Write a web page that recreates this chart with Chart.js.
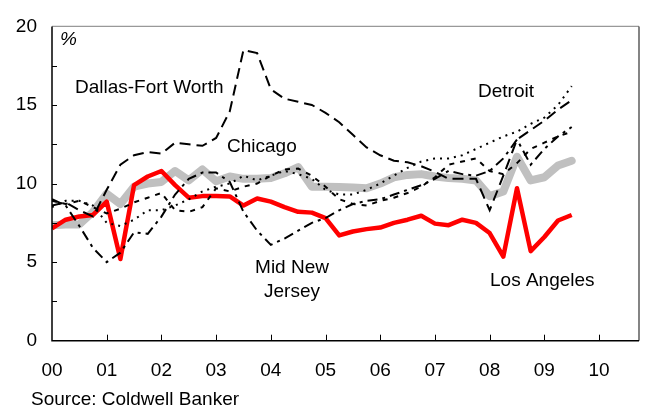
<!DOCTYPE html>
<html><head><meta charset="utf-8">
<script src="https://cdn.jsdelivr.net/npm/chart.js@4.4.1/dist/chart.umd.min.js"></script>
<style>html,body{margin:0;padding:0;background:#fff}#wrap{width:649px;height:412px;position:relative}</style>
</head><body><div id="wrap"><canvas id="c" width="649" height="412"></canvas></div>
<script>
// ---- data ----
const quarters = ['2000Q1','2000Q2','2000Q3','2000Q4','2001Q1','2001Q2','2001Q3','2001Q4','2002Q1','2002Q2','2002Q3','2002Q4','2003Q1','2003Q2','2003Q3','2003Q4','2004Q1','2004Q2','2004Q3','2004Q4','2005Q1','2005Q2','2005Q3','2005Q4','2006Q1','2006Q2','2006Q3','2006Q4','2007Q1','2007Q2','2007Q3','2007Q4','2008Q1','2008Q2','2008Q3','2008Q4','2009Q1','2009Q2','2009Q3'];
const average = [7.34,7.4,7.4,8.2,9.35,8.7,9.8,10.0,10.1,10.8,10.2,10.9,10.15,10.45,10.3,10.3,10.35,10.65,11.05,9.8,9.8,9.78,9.75,9.7,10.0,10.4,10.55,10.6,10.45,10.35,10.3,10.2,9.2,9.5,11.7,10.2,10.4,11.15,11.45];
const losAngeles = [7.15,7.7,7.9,8.0,8.85,5.2,9.9,10.45,10.8,9.9,9.1,9.2,9.2,9.18,8.6,9.05,8.85,8.5,8.2,8.15,7.8,6.7,6.95,7.1,7.2,7.5,7.7,7.95,7.45,7.35,7.7,7.5,6.85,5.35,9.7,5.7,6.6,7.65,8.0];
const dallas = [8.6,8.8,8.3,7.9,9.6,11.2,11.8,12.0,11.9,12.6,12.5,12.4,12.9,14.6,18.5,18.3,16.0,15.4,15.2,15.0,14.5,13.9,13.1,12.3,11.8,11.45,11.35,11.1,10.75,10.3,10.3,10.3,8.3,10.5,12.8,13.4,14.0,14.7,15.3];
const midNewJersey = [9.0,8.6,7.3,5.9,5.0,5.6,6.9,6.8,7.9,9.3,10.3,10.7,10.7,10.1,8.2,7.0,6.1,6.5,7.0,7.5,7.8,8.3,8.7,8.9,9.0,9.3,9.6,9.9,10.3,10.8,10.6,10.5,10.8,11.6,12.8,11.2,12.2,13.0,13.6];
const chicago = [8.9,8.7,8.9,8.5,8.1,8.4,8.8,9.1,9.4,8.3,8.2,8.5,9.7,9.5,9.8,10.0,10.5,10.9,10.95,10.5,9.8,9.0,8.7,8.6,8.9,9.1,9.4,9.8,10.4,11.2,11.4,11.6,10.8,10.6,11.3,12.2,12.6,13.0,13.3];
const detroit = [8.5,8.9,8.9,8.6,7.5,7.3,7.7,8.3,8.3,8.6,9.0,9.5,9.8,10.0,10.5,10.2,10.5,10.8,10.6,10.3,9.6,9.3,9.3,9.6,10.0,10.5,11.0,11.4,11.6,11.6,11.8,12.2,12.6,13.0,13.3,13.8,14.2,15.0,16.2];
const xTickLabels = ['00','01','02','03','04','05','06','07','08','09','10'];
const yTickLabels = ['0','5','10','15','20'];
const yTickValues = [0,5,10,15,20];
const yTickMarks = [2.5,5,7.5,10,12.5,15,17.5];
const xMax = 10.73;
const seriesLabels = {dallas:'Dallas-Fort Worth', chicago:'Chicago', detroit:'Detroit', mnj:['Mid New','Jersey'], la:'Los Angeles'};
const sourceText = 'Source: Coldwell Banker';

// ---- helpers ----
function qx(q){ const y = parseInt(q.slice(0,4),10) - 2000; const n = parseInt(q.slice(5),10); return y + (n-1)/4; }
function pts(arr){ return arr.map((v,i)=>({x:qx(quarters[i]), y:v})); }
const FONT = "'Liberation Sans', Arial, sans-serif";

const overlay = {
  id:'overlay',
  afterDraw(chart){
    const {ctx, chartArea:a, scales:{x,y}} = chart;
    ctx.save();
    // frame
    ctx.strokeStyle = '#999'; ctx.lineWidth = 1.2;
    ctx.beginPath(); ctx.moveTo(a.left, a.top); ctx.lineTo(a.right, a.top); ctx.stroke();
    ctx.strokeStyle = '#333';
    ctx.beginPath(); ctx.moveTo(a.right, a.top); ctx.lineTo(a.right, a.bottom); ctx.stroke();
    ctx.strokeStyle = '#000'; ctx.lineWidth = 1.5;
    ctx.beginPath(); ctx.moveTo(a.left, a.top); ctx.lineTo(a.left, a.bottom); ctx.lineTo(a.right, a.bottom); ctx.stroke();
    // tick marks (inward)
    ctx.lineWidth = 1;
    ctx.beginPath();
    yTickMarks.forEach(v=>{ const py = Math.round(y.getPixelForValue(v))+0.5; ctx.moveTo(a.left, py); ctx.lineTo(a.left+5, py); });
    xTickLabels.forEach((l,i)=>{ if(i===0) return; const px = Math.round(x.getPixelForValue(i))+0.5; ctx.moveTo(px, a.bottom); ctx.lineTo(px, a.bottom-6); });
    ctx.stroke();
    // annotations
    ctx.fillStyle = '#000';
    ctx.textBaseline = 'alphabetic';
    ctx.font = "italic 19px " + FONT; ctx.textAlign = 'left';
    ctx.fillText('%', 60, 45);
    ctx.font = "19px " + FONT;
    ctx.fillText(seriesLabels.dallas, 75, 93);
    ctx.fillText(seriesLabels.chicago, 227, 152);
    ctx.fillText(seriesLabels.detroit, 478, 97);
    ctx.fillText(seriesLabels.la, 490, 286);
    ctx.textAlign = 'center';
    ctx.fillText(seriesLabels.mnj[0], 292, 273);
    ctx.fillText(seriesLabels.mnj[1], 292, 297);
    ctx.textAlign = 'left';
    ctx.fillText(sourceText, 31, 405);
    ctx.restore();
  }
};

new Chart(document.getElementById('c'), {
  type:'line',
  data:{ datasets:[
    {label:'Detroit', data:pts(detroit), borderColor:'#000', borderWidth:2, borderDash:[2,5], order:1},
    {label:'Chicago', data:pts(chicago), borderColor:'#000', borderWidth:2, borderDash:[5,6], order:2},
    {label:'Mid New Jersey', data:pts(midNewJersey), borderColor:'#000', borderWidth:2, borderDash:[10,5,3,5], order:3},
    {label:'Dallas-Fort Worth', data:pts(dallas), borderColor:'#000', borderWidth:2, borderDash:[11,6], order:4},
    {label:'Los Angeles', data:pts(losAngeles), borderColor:'#ff0000', borderWidth:4.5, order:5, borderJoinStyle:'round'},
    {label:'Average', data:pts(average), borderColor:'#c0c0c0', borderWidth:8, order:6, borderJoinStyle:'round', borderCapStyle:'round'}
  ]},
  options:{
    responsive:false, animation:false,
    layout:{padding:{top:20,right:10,left:0,bottom:0}},
    elements:{point:{radius:0}, line:{tension:0}},
    plugins:{legend:{display:false}, tooltip:{enabled:false}},
    scales:{
      x:{type:'linear', min:0, max:xMax,
        border:{display:false}, grid:{display:false, drawTicks:false},
        afterBuildTicks:s=>{ s.ticks = xTickLabels.map((l,i)=>({value:i})); },
        afterFit:s=>{ s.height = 71.3; },
        ticks:{callback:(v,i)=>xTickLabels[i], color:'#000', padding:19, maxRotation:0, autoSkip:false, font:{family:FONT, size:19}}
      },
      y:{type:'linear', min:0, max:20,
        border:{display:false}, grid:{display:false, drawTicks:false},
        afterBuildTicks:s=>{ s.ticks = yTickValues.map(v=>({value:v})); },
        afterFit:s=>{ s.width = 52; },
        ticks:{callback:(v,i)=>yTickLabels[i], color:'#000', padding:15, font:{family:FONT, size:19}}
      }
    }
  },
  plugins:[overlay]
});
</script></body></html>
